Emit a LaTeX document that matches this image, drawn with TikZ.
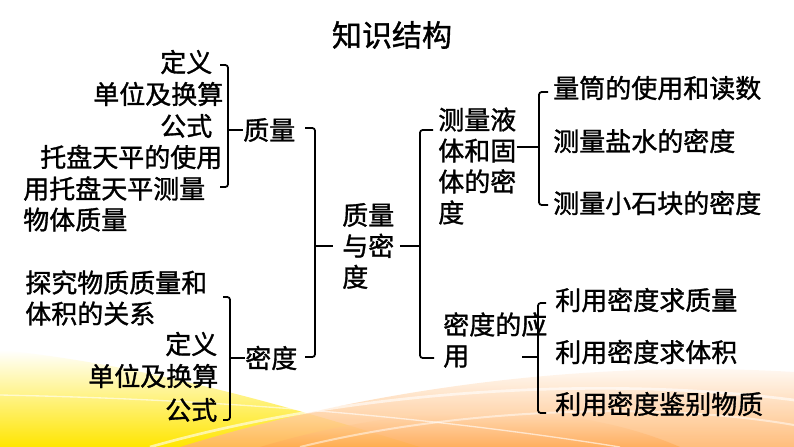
\documentclass[tikz,border=0pt]{standalone}
\usepackage{fontspec}
\setmainfont{Noto Sans CJK SC}[FakeBold=1.2]
\tikzset{
  item/.style={anchor=west, inner sep=0pt, align=left, font=\fontsize{19.5}{23.25}\selectfont},
  title/.style={inner sep=0pt, font=\fontsize{22.5}{27}\selectfont},
  brk/.style={line width=1.3pt, rounded corners=2pt},
}
\begin{document}
\begin{tikzpicture}[x=0.75pt,y=-0.75pt]
% background
\useasboundingbox (0,0) rectangle (794,447);
\fill[white] (0,0) rectangle (794,447);
\shade[top color=white, bottom color=yellow!80!orange] (0,350) .. controls (150,365) and (300,410) .. (420,447) -- (0,447) -- cycle;
\shade[top color=white, bottom color=orange!60, opacity=0.85] (180,447) .. controls (380,385) and (600,360) .. (794,372) -- (794,447) -- cycle;
\shade[top color=orange!10, bottom color=orange!70, opacity=0.6] (260,447) .. controls (400,405) and (560,395) .. (680,447) -- cycle;
\draw[white, line width=2pt, opacity=0.6] (150,447) .. controls (350,390) and (600,375) .. (794,400);
\draw[white, line width=1pt, opacity=0.6] (0,395) .. controls (250,400) and (450,420) .. (620,447);
\draw[white, line width=1.5pt, opacity=0.5] (300,447) .. controls (450,410) and (650,400) .. (794,425);

\node[title] (title) at (392,35) {知识结构};

% mass side
\node[item] (mDef) at (160,62) {定义};
\node[item] (mUnit) at (93,94) {单位及换算};
\node[item] (mFormula) at (160,126) {公式};
\node[item] (mBalance) at (40,157) {托盘天平的使用};
\node[item] (mMeasure) at (23,204) {用托盘天平测量\\物体质量};
\node[item] (mass) at (243,130) {质量};

% density side
\node[item] (dExplore) at (25,298) {探究物质质量和\\体积的关系};
\node[item] (dDef) at (165,344) {定义};
\node[item] (dUnit) at (88,376) {单位及换算};
\node[item] (dFormula) at (165,410) {公式};
\node[item] (density) at (245,358) {密度};

\node[item] (core) at (342,246) {质量\\与密\\度};

% right side
\node[item] (liquid) at (438,166) {测量液\\体和固\\体的密\\度};
\node[item] (lCyl) at (553,88) {量筒的使用和读数};
\node[item] (lSalt) at (553,141) {测量盐水的密度};
\node[item] (lStone) at (553,203) {测量小石块的密度};

\node[item] (app) at (443,340) {密度的应\\用};
\node[item] (aMass) at (555,300) {利用密度求质量};
\node[item] (aVol) at (555,352) {利用密度求体积};
\node[item] (aId) at (555,404) {利用密度鉴别物质};

% brackets
\coordinate (mTop) at (228,65);
\coordinate (mBot) at (228,187);
\draw[brk] (mTop) ++(-8,0) -- (mTop) -- (mBot) -- ++(-8,0);
\draw[brk] (mTop |- mass.west) -- (mass.west);

\coordinate (dTop) at (230,297);
\coordinate (dBot) at (230,420);
\draw[brk] (dTop) ++(-7,0) -- (dTop) -- (dBot) -- ++(-7,0);
\draw[brk] (dTop |- density.west) -- (density.west);

\coordinate (cTop) at (315,128);
\coordinate (cBot) at (315,357);
\draw[brk] (cTop) ++(-10,0) -- (cTop) -- (cBot) -- ++(-10,0);
\draw[brk] (cTop |- core.west) -- ([xshift=-7pt]core.west);

\coordinate (rTop) at (420,130);
\coordinate (rBot) at (420,358);
\draw[brk] (rTop) ++(13,0) -- (rTop) -- (rBot) -- ++(14,0);
\draw[brk] ([xshift=4pt]core.east) -- (rTop |- core.east);

\coordinate (lTop) at (539,92);
\coordinate (lBot) at (539,205);
\coordinate (lMid) at (539,147);
\draw[brk] (lTop) ++(9,0) -- (lTop) -- (lBot) -- ++(9,0);
\draw[brk] (liquid.east |- lMid) -- (lMid);

\coordinate (aTop) at (538,303);
\coordinate (aBot) at (538,413);
\coordinate (aMid) at (538,357);
\draw[brk] (aTop) ++(8,0) -- (aTop) -- (aBot) -- ++(8,0);
\draw[brk] (aMid) -- ++(-16,0);
\end{tikzpicture}
\end{document}
